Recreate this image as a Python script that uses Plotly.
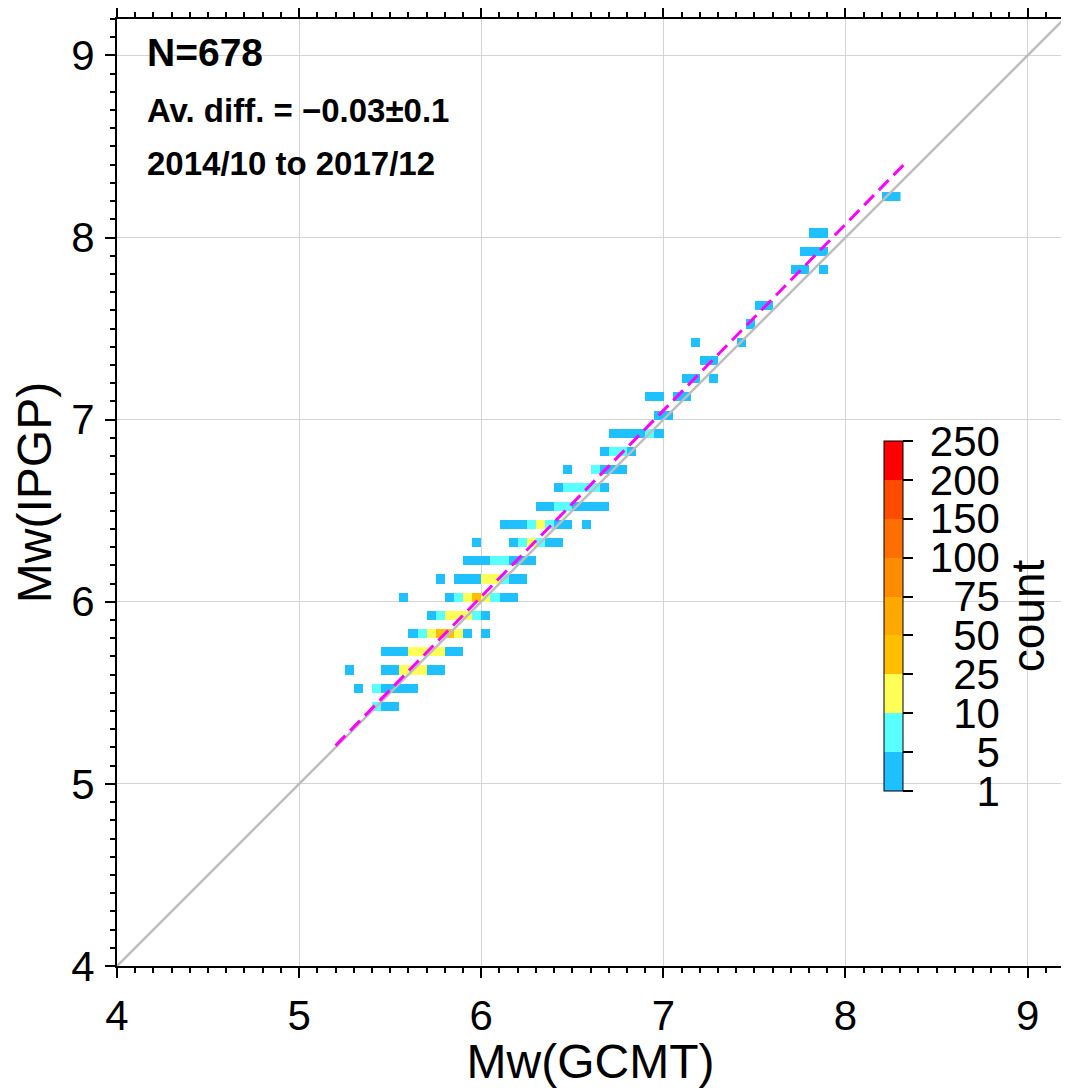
import numpy as np
import plotly.graph_objects as go

# IPGP magnitude rows (lower edge of each 0.05 bin)
ipgp_mw = [5.4, 5.5, 5.6, 5.7, 5.8, 5.9, 6.0, 6.1, 6.2, 6.3, 6.4, 6.5, 6.6, 6.7,
           6.8, 6.9, 7.0, 7.1, 7.2, 7.3, 7.4, 7.5, 7.6, 7.8, 7.9, 8.0, 8.2]

# GCMT bins (lower edge) populated in each row, and counts in them
gcmt_bins = [
    [5.40, 5.45, 5.50],
    [5.30, 5.40, 5.45, 5.50, 5.55, 5.60],
    [5.25, 5.45, 5.50, 5.55, 5.60, 5.65, 5.70, 5.75],
    [5.45, 5.50, 5.55, 5.60, 5.65, 5.70, 5.75, 5.80, 5.85],
    [5.60, 5.65, 5.70, 5.75, 5.80, 5.85, 5.90, 6.00],
    [5.70, 5.75, 5.80, 5.85, 5.90, 5.95, 6.00],
    [5.55, 5.80, 5.85, 5.90, 5.95, 6.00, 6.05, 6.10, 6.15],
    [5.75, 5.85, 5.90, 5.95, 6.00, 6.05, 6.10, 6.15, 6.20],
    [5.90, 5.95, 6.00, 6.05, 6.10, 6.15, 6.20, 6.25],
    [5.95, 6.15, 6.20, 6.25, 6.30, 6.35, 6.40],
    [6.10, 6.15, 6.20, 6.25, 6.30, 6.35, 6.40, 6.45, 6.55],
    [6.30, 6.35, 6.40, 6.45, 6.50, 6.55, 6.60, 6.65],
    [6.40, 6.45, 6.50, 6.55, 6.60, 6.65],
    [6.45, 6.60, 6.65, 6.70, 6.75],
    [6.65, 6.70, 6.75, 6.80],
    [6.70, 6.75, 6.80, 6.85, 6.90, 6.95],
    [6.95, 7.00],
    [6.90, 6.95, 7.05, 7.10],
    [7.10, 7.15, 7.25],
    [7.20, 7.25],
    [7.15, 7.40],
    [7.45],
    [7.50, 7.55],
    [7.70, 7.75, 7.85],
    [7.75, 7.80, 7.85],
    [7.80, 7.85],
    [8.20, 8.25],
]
counts = [
    [6, 3, 2],
    [1, 5, 4, 3, 4, 2],
    [1, 2, 4, 11, 14, 12, 4, 3],
    [2, 3, 4, 13, 17, 20, 12, 4, 2],
    [3, 7, 18, 27, 26, 14, 4, 1],
    [4, 8, 16, 19, 13, 7, 3],
    [1, 4, 9, 21, 28, 17, 6, 3, 2],
    [1, 2, 3, 4, 12, 10, 6, 3, 2],
    [2, 3, 4, 6, 5, 4, 2, 2],
    [1, 4, 5, 10, 6, 3, 2],
    [2, 3, 4, 7, 11, 5, 4, 2, 1],
    [2, 4, 6, 5, 4, 3, 2, 1],
    [3, 5, 7, 6, 5, 2],
    [1, 5, 4, 3, 2],
    [2, 5, 6, 2],
    [1, 2, 3, 4, 5, 3],
    [3, 2],
    [1, 2, 2, 3],
    [2, 3, 1],
    [2, 2],
    [1, 1],
    [2],
    [1, 2],
    [2, 1, 1],
    [1, 2, 2],
    [1, 1],
    [1, 1],
]

# colour bands of the count scale
count_edges = [1, 5, 10, 25, 50, 75, 100, 150, 200, 250]
band_colors = ['#1ec0ff', '#5affff', '#ffff55', '#ffbf00', '#ffa800',
               '#ff8c00', '#ff6e00', '#ff4b00', '#ff0000']

# regression line end points
fit_x = [5.20, 8.32]
fit_y = [5.21, 8.40]

text_n = 'N=678'
text_diff = 'Av. diff. = \u22120.03\u00b10.1'
text_period = '2014/10 to 2017/12'

step = 0.05
x0, y0 = 5.20, 5.40
nx = int(round((8.30 - x0) / step))
ny = int(round((8.25 - y0) / step))
xc = [round(x0 + step * (i + 0.5), 3) for i in range(nx)]
yc = [round(y0 + step * (j + 0.5), 3) for j in range(ny)]
z = [[None] * nx for _ in range(ny)]
hov = [[''] * nx for _ in range(ny)]
for yv, bins, cnts in zip(ipgp_mw, gcmt_bins, counts):
    j = int(round((yv - y0) / step))
    for xv, c in zip(bins, cnts):
        i = int(round((xv - x0) / step))
        band = int(np.searchsorted(count_edges, c, side='right')) - 1
        z[j][i] = band + 0.5
        hov[j][i] = f'count: {c}'

nb = len(band_colors)
cscale = []
for k, col in enumerate(band_colors):
    cscale.append([k / nb, col])
    cscale.append([(k + 1) / nb, col])

# right-align the colour bar labels with figure spaces
cb_text = ['\u2009' + '\u2007' * (3 - len(str(v))) + str(v) for v in count_edges]

font = 'Liberation Sans, Arial, Helvetica, sans-serif'
fig = go.Figure()

fig.add_trace(go.Scatter(x=[4, 9.2], y=[4, 9.2], mode='lines',
                         line=dict(color='#bdbdbd', width=2.5),
                         hoverinfo='skip', showlegend=False))

fig.add_trace(go.Heatmap(
    x=xc, y=yc, z=z, text=hov, hoverinfo='text', hoverongaps=False,
    colorscale=cscale, zmin=0, zmax=nb, showscale=True,
    colorbar=dict(
        x=0.81, xanchor='left', xpad=0, y=0.3696, yanchor='middle', ypad=0,
        len=350, lenmode='pixels', thickness=19, thicknessmode='pixels',
        outlinewidth=1, outlinecolor='black',
        tickmode='array', tickvals=list(range(nb + 1)), ticktext=cb_text,
        ticks='outside', ticklen=10, tickwidth=1.5, tickcolor='black',
        tickfont=dict(size=42, color='black', family=font),
        title=dict(text='count', side='right',
                   font=dict(size=46, color='black', family=font)),
    ),
))

fig.add_trace(go.Scatter(x=fit_x, y=fit_y, mode='lines',
                         line=dict(color='#ff00ff', width=3, dash='14px,7px'),
                         hoverinfo='skip', showlegend=False))

axis = dict(range=[4, 9.2], dtick=1, tick0=0, showgrid=True, gridcolor='#d4d4d4',
            gridwidth=1, zeroline=False, showline=True, linecolor='black',
            linewidth=2, mirror='allticks', ticks='outside', ticklen=10,
            tickwidth=2, tickcolor='black', automargin=False,
            minor=dict(dtick=0.1, ticks='outside', ticklen=5, tickwidth=1.5,
                       tickcolor='black', showgrid=False),
            tickfont=dict(size=42, color='black', family=font))

# page body adds 8px around the figure, so the figure is 8px smaller
fig.update_layout(
    width=1061, height=1080,
    margin=dict(l=109, r=5, t=11, b=122),
    paper_bgcolor='white', plot_bgcolor='white',
    showlegend=False,
    xaxis=dict(axis, ticklabelstandoff=2,
               title=dict(text='Mw(GCMT)', standoff=14,
                          font=dict(size=48, color='black', family=font))),
    yaxis=dict(axis, ticklabelstandoff=2,
               title=dict(text='Mw(IPGP)', standoff=14,
                          font=dict(size=48, color='black', family=font))),
)

for txt, yy, sz in [(text_n, 0.965, 39), (text_diff, 0.903, 33), (text_period, 0.847, 33)]:
    fig.add_annotation(x=0.0296, y=yy, xref='paper', yref='paper',
                       xanchor='left', yanchor='middle', showarrow=False,
                       text=f'<b>{txt}</b>',
                       font=dict(size=sz, color='black', family=font))

fig.write_html('out.html')
